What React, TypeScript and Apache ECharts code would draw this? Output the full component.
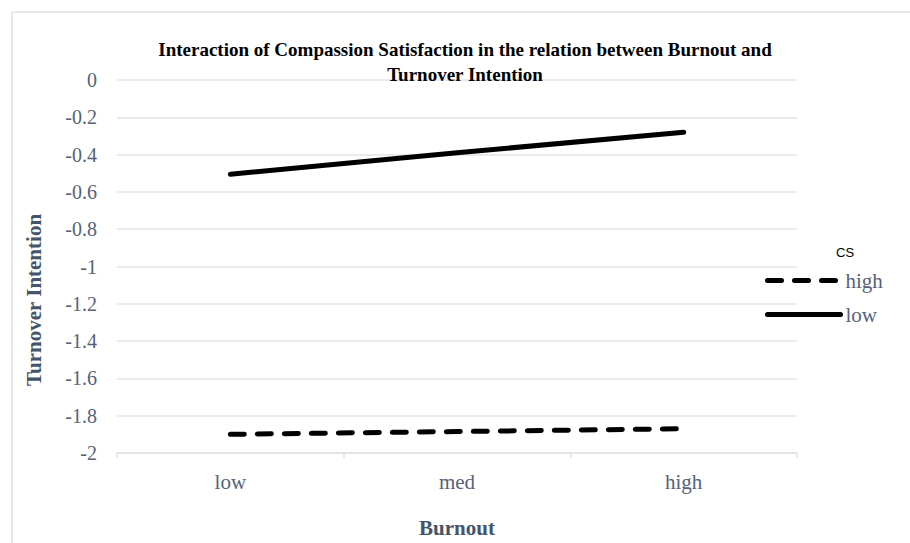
import React, { useEffect, useRef } from "react";
import * as echarts from "echarts";

const categories = ["low", "med", "high"];
const seriesNames = ["high", "low"];
const highCS = [-1.9, -1.885, -1.87];
const lowCS = [-0.505, -0.39, -0.28];
const yTicks = { min: -2, max: 0, interval: 0.2 };

const LABEL = "#55627a";
const AXIS_TITLE = "#44546A";
const GRID = "#dfe3e8";
const SERIF = "'Liberation Serif', 'Times New Roman', serif";

export default function App() {
  const ref = useRef<HTMLDivElement>(null);
  useEffect(() => {
    if (!ref.current) return;
    const chart = echarts.init(ref.current, null, { renderer: "svg" });
    chart.setOption({
      animation: false,
      backgroundColor: "#ffffff",
      title: {
        text: "Interaction of Compassion Satisfaction in the relation between Burnout and\nTurnover Intention",
        left: 460,
        textAlign: "center",
        top: 32,
        textStyle: {
          fontFamily: SERIF,
          fontWeight: "bold",
          fontSize: 19,
          color: "#000",
          lineHeight: 25,
        },
      },
      grid: { left: 117, right: 113, top: 80, bottom: 80 },
      legend: {
        orient: "vertical",
        left: 760,
        top: 265,
        itemWidth: 73,
        itemHeight: 26,
        itemGap: 13,
        data: seriesNames,
        itemStyle: { opacity: 0 },
        lineStyle: { width: 5, cap: "round" },
        textStyle: { fontFamily: SERIF, fontSize: 21, color: LABEL },
      },
      xAxis: {
        type: "category",
        data: categories,
        boundaryGap: true,
        axisLine: { onZero: false, lineStyle: { color: GRID, width: 1.5 } },
        axisTick: { show: true, length: 5, lineStyle: { color: GRID, width: 1.5 } },
        axisLabel: { fontFamily: SERIF, fontSize: 21, color: LABEL, margin: 18 },
        name: "Burnout",
        nameLocation: "middle",
        nameGap: 64,
        nameTextStyle: { fontFamily: SERIF, fontSize: 21, fontWeight: "bold", color: AXIS_TITLE },
      },
      yAxis: {
        type: "value",
        min: yTicks.min,
        max: yTicks.max,
        interval: yTicks.interval,
        axisLine: { show: false },
        axisTick: { show: false },
        splitLine: { lineStyle: { color: GRID, width: 1.5 } },
        axisLabel: {
          fontFamily: SERIF,
          fontSize: 20,
          color: LABEL,
          margin: 20,
          formatter: (v: number) => String(Math.round(v * 10) / 10),
        },
      },
      graphic: [
        { type: "line", shape: { x1: 12, y1: 12, x2: 910, y2: 12 }, style: { stroke: "#dde1e6", lineWidth: 1.5 } },
        { type: "line", shape: { x1: 12, y1: 12, x2: 12, y2: 543 }, style: { stroke: "#dde1e6", lineWidth: 1.5 } },
        {
          type: "text",
          x: 34,
          y: 300,
          rotation: Math.PI / 2,
          style: {
            text: "Turnover Intention",
            fontFamily: SERIF,
            fontSize: 21,
            fontWeight: "bold",
            fill: AXIS_TITLE,
            align: "center",
            verticalAlign: "middle",
          },
        },
        {
          type: "text",
          x: 836,
          y: 252,
          style: { text: "CS", fontFamily: "'Liberation Sans', Arial, sans-serif", fontSize: 13, fill: "#000", verticalAlign: "middle" },
        },
      ],
      series: [
        {
          name: seriesNames[0],
          type: "line",
          data: highCS,
          symbol: "none",
          lineStyle: { color: "#000", width: 5, type: [14, 13], cap: "round" },
          itemStyle: { color: "#000" },
        },
        {
          name: seriesNames[1],
          type: "line",
          data: lowCS,
          symbol: "none",
          lineStyle: { color: "#000", width: 5, cap: "round" },
          itemStyle: { color: "#000" },
        },
      ],
    });
    return () => chart.dispose();
  }, []);
  return <div ref={ref} style={{ position: "absolute", left: 0, top: 0, width: 910, height: 543 }} />;
}
